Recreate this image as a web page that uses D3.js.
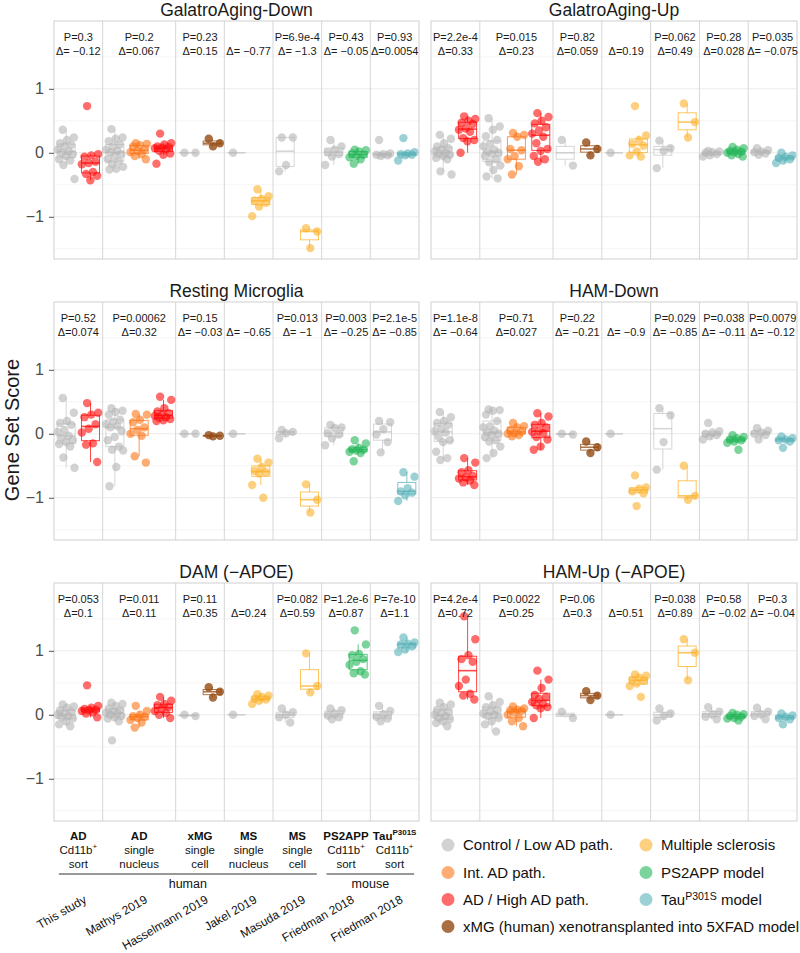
<!DOCTYPE html>
<html><head><meta charset="utf-8">
<script src="https://cdn.jsdelivr.net/npm/d3@7"></script>
<style>body{margin:0;background:#fff}svg{font-family:"Liberation Sans",Arial,Helvetica,sans-serif}</style>
</head><body><svg id="c" width="800" height="953"></svg>
<script>
// ---------------- DATA ----------------
const panelTitles = ["GalatroAging-Down","GalatroAging-Up","Resting Microglia","HAM-Down","DAM (\u2212APOE)","HAM-Up (\u2212APOE)"];
const slotCategories = ["ctrl","ad","ctrl","int","ad","ctrl","xmg","ctrl","ms","ctrl","ms","ctrl","ps2","ctrl","tau"];
const groupSlots = [[1,2],[3,4,5],[6,7],[8,9],[10,11],[12,13],[14,15]];
const studies = ["This study","Mathys 2019","Hasselmann 2019","Jakel 2019","Masuda 2019","Friedman 2018","Friedman 2018"];
const groupLine1 = ["AD","AD","xMG","MS","MS","PS2APP","Tau"];
const groupLine1Sup = ["","","","","","","P301S"];
const groupLine2 = ["Cd11b","single","single","single","single","Cd11b","Cd11b"];
const groupLine2Sup = ["+","","","","","+","+"];
const groupLine3 = ["sort","nucleus","cell","nucleus","cell","sort","sort"];
const yTicks = [-1,0,1];

const galatroDown = [
 [0.36,0.24,0.2,0.15,0.12,0.1,0.05,0.02,0,-0.02,-0.05,-0.1,-0.12,-0.19,-0.41],
 [0.73,-0.02,-0.04,-0.06,-0.14,-0.16,-0.18,-0.3,-0.33,-0.36,-0.43],
 [0.37,0.24,0.22,0.18,0.13,0.1,0.05,0.03,0.01,-0.02,-0.05,-0.1,-0.13,-0.17,-0.22,-0.25,-0.26],
 [0.15,0.14,0.12,0.1,0.05,0.03,0.01,-0.02,-0.05,-0.1],
 [0.3,0.15,0.13,0.1,0.09,0.08,0.07,0.05,0.03,-0.01,-0.03,-0.17],
 [0,0],
 [0.22,0.15,0.1],
 [0],
 [-0.57,-0.68,-0.72,-0.75,-0.78,-0.84,-0.99],
 [0.24,0.24,-0.19,-0.29],
 [-1.18,-1.23,-1.49],
 [0.2,0.1,0.05,0.01,-0.02,-0.06,-0.19],
 [0.05,0.04,0.02,-0.01,-0.03,-0.05,-0.07,-0.1,-0.17],
 [0.2,-0.01,-0.02,-0.03,-0.04,-0.05],
 [0.23,0.01,-0.01,-0.02,-0.03,-0.04,-0.12]
];
const galatroUp = [
 [0.28,0.22,0.15,0.1,0.07,0.05,0.02,0,-0.01,-0.03,-0.05,-0.08,-0.1,-0.29,-0.34],
 [0.57,0.53,0.5,0.47,0.45,0.38,0.36,0.33,0.23,0.2,0.18,0],
 [0.54,0.41,0.36,0.26,0.2,0.14,0.1,0.05,0.02,0,-0.02,-0.05,-0.1,-0.15,-0.2,-0.27,-0.37,-0.4],
 [0.31,0.28,0.25,0.06,0.04,-0.05,-0.1,-0.21,-0.34],
 [0.62,0.56,0.5,0.46,0.4,0.35,0.3,0.25,0.15,0.06,0.03,-0.05,-0.1,-0.14],
 [0.2,-0.2],
 [0.16,0.06,-0.04],
 [0],
 [0.73,0.27,0.2,0.14,0.11,0.02,-0.04,-0.06],
 [0.19,0.07,0.03,-0.24],
 [0.77,0.48,0.24],
 [0.03,0.02,0.01,0,-0.02,-0.04,-0.06],
 [0.09,0.07,0.05,0.03,0.02,0.01,0,-0.02,-0.04,-0.06],
 [0.07,0.04,0.02,0.01,-0.01,-0.03],
 [0,-0.04,-0.06,-0.08,-0.1,-0.12,-0.16]
];
const restingMg = [
 [0.56,0.33,0.2,0.17,0.14,0.06,0.03,-0.03,-0.06,-0.1,-0.13,-0.16,-0.2,-0.37,-0.53],
 [0.48,0.33,0.3,0.26,0.15,0.08,0.02,-0.15,-0.17,-0.44],
 [0.4,0.36,0.34,0.3,0.22,0.19,0.15,0.12,0.1,0.04,-0.05,-0.1,-0.2,-0.25,-0.26,-0.52,-0.82],
 [0.31,0.3,0.22,0.18,0.1,0.06,0,-0.03,-0.35,-0.45],
 [0.58,0.53,0.4,0.35,0.32,0.3,0.28,0.26,0.25,0.23,0.21,0.2],
 [0,0],
 [-0.02,-0.03,-0.04],
 [0],
 [-0.39,-0.45,-0.52,-0.58,-0.6,-0.62,-0.8,-1.0],
 [0.06,0.03,0.01,-0.07],
 [-0.79,-1.03,-1.23],
 [0.14,0.1,0.09,0.01,-0.01,-0.07,-0.18],
 [-0.1,-0.15,-0.22,-0.24,-0.25,-0.26,-0.28,-0.3,-0.43],
 [0.2,0.18,0.07,-0.01,-0.13,-0.29],
 [-0.6,-0.67,-0.85,-0.9,-0.92,-0.96,-1.05]
];
const hamDown = [
 [0.34,0.26,0.2,0.17,0.14,0.08,0.04,0.02,-0.05,-0.1,-0.13,-0.28,-0.38,-0.41],
 [-0.38,-0.45,-0.57,-0.6,-0.66,-0.68,-0.7,-0.73,-0.76,-0.8],
 [0.38,0.37,0.36,0.3,0.2,0.12,0.1,0.05,0.02,0,-0.02,-0.05,-0.1,-0.12,-0.2,-0.3,-0.38],
 [0.17,0.12,0.1,0.06,0.03,0.01,0,-0.02,-0.04],
 [0.32,0.27,0.17,0.14,0.1,0.05,0.03,0.01,-0.05,-0.09,-0.2,-0.25],
 [0,-0.01],
 [-0.12,-0.21,-0.3],
 [0],
 [-0.65,-0.84,-0.86,-0.9,-0.93,-1.13],
 [0.4,0.29,-0.13,-0.56],
 [-0.5,-0.97,-1.03],
 [0.17,0.04,0.02,0,-0.02,-0.04,-0.09],
 [-0.02,-0.05,-0.07,-0.09,-0.1,-0.12,-0.14,-0.25],
 [0.09,0.05,0.02,0,-0.02,-0.09],
 [-0.04,-0.07,-0.09,-0.1,-0.12,-0.22]
];
const damApoe = [
 [0.16,0.13,0.11,0.07,0.05,0.02,0,-0.02,-0.04,-0.06,-0.1,-0.15,-0.18],
 [0.46,0.14,0.11,0.09,0.08,0.07,0.06,0.04,0.02,-0.04],
 [0.19,0.17,0.14,0.1,0.07,0.05,0.03,0.02,0,-0.02,-0.04,-0.06,-0.1,-0.4],
 [0.14,0.06,0,-0.02,-0.03,-0.05,-0.08,-0.12,-0.2],
 [0.28,0.22,0.17,0.15,0.12,0.1,0.06,0.03,0,-0.05],
 [0,-0.02],
 [0.43,0.36,0.27],
 [0],
 [0.32,0.3,0.28,0.25,0.24,0.22,0.17],
 [0.1,0.04,0,-0.04,-0.12],
 [0.96,0.45,0.35],
 [0.1,0.07,0.02,-0.01,-0.04,-0.07],
 [1.32,1.1,0.95,0.93,0.87,0.83,0.78,0.68,0.65,0.63],
 [0.14,0.06,0.01,-0.03,-0.06,-0.1],
 [1.21,1.13,1.11,1.1,1.07,1.02,0.98]
];
const hamUpApoe = [
 [0.19,0.16,0.12,0.08,0.05,0.02,0,-0.02,-0.05,-0.07,-0.1,-0.13,-0.18],
 [1.54,1.18,0.93,0.87,0.83,0.55,0.45,0.33,0.3,0.24],
 [0.29,0.2,0.15,0.12,0.08,0.05,0.02,0,-0.02,-0.05,-0.1,-0.15,-0.26],
 [0.13,0.1,0.08,0.07,0.06,0.04,0,-0.05,-0.1,-0.18],
 [0.69,0.55,0.42,0.31,0.28,0.25,0.2,0.17,0.15,0.12,0.1,-0.05],
 [0.05,-0.05],
 [0.37,0.3,0.23],
 [0],
 [0.63,0.61,0.58,0.55,0.53,0.49,0.45,0.28],
 [0.1,0.02,-0.02,-0.09],
 [1.18,0.97,0.54],
 [0.12,0.05,0.01,-0.03,-0.07],
 [0.03,0.01,0,-0.02,-0.03,-0.05,-0.06,-0.09],
 [0.11,0.05,0.01,-0.02,-0.07],
 [0.02,-0.01,-0.03,-0.05,-0.07,-0.15]
];
const pLabels = [
 ["0.3","0.2","0.23","","6.9e-4","0.43","0.93"],
 ["2.2e-4","0.015","0.82","","0.062","0.28","0.035"],
 ["0.52","0.00062","0.15","","0.013","0.003","2.1e-5"],
 ["1.1e-8","0.71","0.22","","0.029","0.038","0.0079"],
 ["0.053","0.011","0.11","","0.082","1.2e-6","7e-10"],
 ["4.2e-4","0.0022","0.06","","0.038","0.58","0.3"]
];
const deltas = [
 [-0.12,0.067,0.15,-0.77,-1.3,-0.05,0.0054],
 [0.33,0.23,0.059,0.19,0.49,0.028,-0.075],
 [0.074,0.32,-0.03,-0.65,-1,-0.25,-0.85],
 [-0.64,0.027,-0.21,-0.9,-0.85,-0.11,-0.12],
 [0.1,0.11,0.35,0.24,0.59,0.87,1.1],
 [0.72,0.25,0.3,0.51,0.89,-0.02,-0.04]
];
const legendKeys = ["ctrl","int","ad","xmg","ms","ps2","tau"];
const legendLabels = [
 [{t:"Control / Low AD path."}],
 [{t:"Int. AD path."}],
 [{t:"AD / High AD path."}],
 [{t:"xMG (human) xenotransplanted into 5XFAD model"}],
 [{t:"Multiple sclerosis"}],
 [{t:"PS2APP model"}],
 [{t:"Tau"},{t:"P301S",sup:true},{t:" model"}]
];
const categoryKeys = ["ctrl","int","ad","xmg","ms","ps2","tau"];
const categoryColors = ["#b4b4b4","#fc7417","#ff0a0a","#944a12","#fcb12a","#25b658","#58b2b7"];
const categoryOpacity = [0.6,0.6,0.6,0.8,0.6,0.6,0.6];

// ---------------- DRAW ----------------
const panelsData = [galatroDown,galatroUp,restingMg,hamDown,damApoe,hamUpApoe];
const svg = d3.select("#c");
const color = d3.scaleOrdinal(categoryKeys, categoryColors);
const opac = d3.scaleOrdinal(categoryKeys, categoryOpacity);
const cols = [{x0:54,x1:419},{x0:431,x1:797}];
const rows = [{y0:21,y1:259},{y0:302,y1:540},{y0:583,y1:821}];
const fmtDelta = d => d < 0 ? "\u0394= \u2212" + String(-d) : "\u0394=" + String(d);
const jitter = (i) => (((i * 0.6180339887 + 0.31) % 1) - 0.5) * 18;

panelsData.forEach((pdata, pi) => {
  const c = cols[pi % 2], r = rows[Math.floor(pi / 2)];
  const x = d3.scaleLinear().domain([0.5, 15.5]).range([c.x0, c.x1]);
  const y = d3.scaleLinear().domain([-1.66, 2.06]).range([r.y1, r.y0]);
  const g = svg.append("g");

  // grid
  g.selectAll(".minor").data([-1.5,-0.5,0.5,1.5]).join("line")
    .attr("x1",c.x0).attr("x2",c.x1).attr("y1",d=>y(d)).attr("y2",d=>y(d))
    .attr("stroke","#f3f3f3").attr("stroke-width",0.8);
  g.selectAll(".major").data(yTicks).join("line")
    .attr("x1",c.x0).attr("x2",c.x1).attr("y1",d=>y(d)).attr("y2",d=>y(d))
    .attr("stroke","#ebebeb").attr("stroke-width",1);

  // separators
  const seps = groupSlots.slice(0,-1).map(s => s[s.length-1] + 0.5);
  g.selectAll(".sep").data(seps).join("line")
    .attr("x1",d=>x(d)).attr("x2",d=>x(d)).attr("y1",r.y0).attr("y2",r.y1)
    .attr("stroke","#d6d6d6").attr("stroke-width",1);

  // boxes + points
  pdata.forEach((vals, si) => {
    const cat = slotCategories[si];
    const col = color(cat);
    const s = vals.slice().sort(d3.ascending);
    const q1 = d3.quantile(s,0.25), med = d3.quantile(s,0.5), q3 = d3.quantile(s,0.75);
    const iqr = q3 - q1;
    const lo = d3.min(s.filter(v => v >= q1 - 1.5*iqr));
    const hi = d3.max(s.filter(v => v <= q3 + 1.5*iqr));
    const cx = x(si + 1), hw = 9;
    const bg = g.append("g").attr("stroke",col).attr("stroke-opacity",cat==="ctrl"?0.55:0.75).attr("fill","none");
    bg.append("line").attr("x1",cx).attr("x2",cx).attr("y1",y(hi)).attr("y2",y(q3));
    bg.append("line").attr("x1",cx).attr("x2",cx).attr("y1",y(q1)).attr("y2",y(lo));
    bg.append("rect").attr("x",cx-hw).attr("width",hw*2).attr("y",y(q3)).attr("height",Math.max(0,y(q1)-y(q3)));
    bg.append("line").attr("x1",cx-hw).attr("x2",cx+hw).attr("y1",y(med)).attr("y2",y(med)).attr("stroke-width",1.6);
    g.append("g").selectAll("circle").data(vals).join("circle")
      .attr("cx",(d,i)=>cx + jitter(i)).attr("cy",d=>y(d)).attr("r",4.2)
      .attr("fill",col).attr("fill-opacity",opac(cat));
  });

  // border
  g.append("rect").attr("x",c.x0).attr("y",r.y0).attr("width",c.x1-c.x0).attr("height",r.y1-r.y0)
    .attr("fill","none").attr("stroke","#cfcfcf").attr("stroke-width",1);

  // title
  g.append("text").attr("x",(c.x0+c.x1)/2).attr("y",r.y0-5.5).attr("text-anchor","middle")
    .attr("font-size",17.5).attr("fill","#1a1a1a").text(panelTitles[pi]);

  // annotations
  groupSlots.forEach((slots, gi) => {
    const gx = x(d3.mean(slots));
    if (pLabels[pi][gi]) g.append("text").attr("x",gx).attr("y",r.y0+20).attr("text-anchor","middle")
      .attr("font-size",11).attr("fill","#1a1a1a").text("P=" + pLabels[pi][gi]);
    g.append("text").attr("x",gx).attr("y",r.y0+34).attr("text-anchor","middle")
      .attr("font-size",11).attr("fill","#1a1a1a").text(fmtDelta(deltas[pi][gi]));
  });

  // y axis (left column)
  if (pi % 2 === 0) {
    const ax = g.append("g").attr("transform",`translate(${c.x0},0)`)
      .call(d3.axisLeft(y).tickValues(yTicks).tickSize(5).tickPadding(5).tickFormat(d => d < 0 ? "\u2212" + (-d) : String(d)));
    ax.select(".domain").remove();
    ax.selectAll(".tick line").attr("stroke","#555");
    ax.selectAll(".tick text").attr("font-size",16).attr("fill","#4d4d4d").attr("font-family","'Liberation Sans',Arial,sans-serif");
  }
});

// y title
svg.append("text").attr("transform","translate(19,430) rotate(-90)").attr("text-anchor","middle")
  .attr("font-size",20).attr("fill","#1a1a1a").text("Gene Set Score");

// bottom group labels (under left column)
const xb = d3.scaleLinear().domain([0.5,15.5]).range([cols[0].x0, cols[0].x1]);
groupSlots.forEach((slots, gi) => {
  const gx = xb(d3.mean(slots));
  const t1 = svg.append("text").attr("x",gx).attr("y",840).attr("text-anchor","middle")
    .attr("font-size",11.5).attr("font-weight","bold").attr("fill","#111");
  t1.append("tspan").text(groupLine1[gi]);
  if (groupLine1Sup[gi]) t1.append("tspan").attr("dy",-5).attr("font-size",8).text(groupLine1Sup[gi]);
  const t2 = svg.append("text").attr("x",gx).attr("y",854).attr("text-anchor","middle")
    .attr("font-size",11.5).attr("fill","#111");
  t2.append("tspan").text(groupLine2[gi]);
  if (groupLine2Sup[gi]) t2.append("tspan").attr("dy",-5).attr("font-size",8).text(groupLine2Sup[gi]);
  svg.append("text").attr("x",gx).attr("y",868).attr("text-anchor","middle")
    .attr("font-size",11.5).attr("fill","#111").text(groupLine3[gi]);
  svg.append("text").attr("transform",`translate(${gx+9},902) rotate(-30)`).attr("text-anchor","end")
    .attr("font-size",12).attr("fill","#111").text(studies[gi]);
});
// species brackets
const speciesSpans = [{name:"human", from:1, to:11}, {name:"mouse", from:12, to:15}];
speciesSpans.forEach(sp => {
  const a = xb(sp.from - 0.3), b = xb(sp.to + 0.3);
  svg.append("line").attr("x1",a).attr("x2",b).attr("y1",874).attr("y2",874).attr("stroke","#333").attr("stroke-width",1);
  svg.append("text").attr("x",(a+b)/2).attr("y",888).attr("text-anchor","middle").attr("font-size",12.5).attr("fill","#111").text(sp.name);
});

// legend
const legCols = [{cx:448, tx:463},{cx:646, tx:661}];
const legRows = [845, 872.5, 899.5, 926.5];
legendKeys.forEach((k, i) => {
  const lc = i < 4 ? legCols[0] : legCols[1];
  const ly = legRows[i < 4 ? i : i - 4];
  svg.append("circle").attr("cx",lc.cx).attr("cy",ly).attr("r",6.5).attr("fill",color(k)).attr("fill-opacity",opac(k));
  const t = svg.append("text").attr("x",lc.tx).attr("y",ly+5).attr("font-size",15).attr("fill","#111");
  legendLabels[i].forEach((p, j) => {
    const ts = t.append("tspan").text(p.t);
    if (p.sup) ts.attr("dy",-5).attr("font-size",10.5);
    else if (j > 0 && legendLabels[i][j-1].sup) ts.attr("dy",5);
  });
});
</script></body></html>
